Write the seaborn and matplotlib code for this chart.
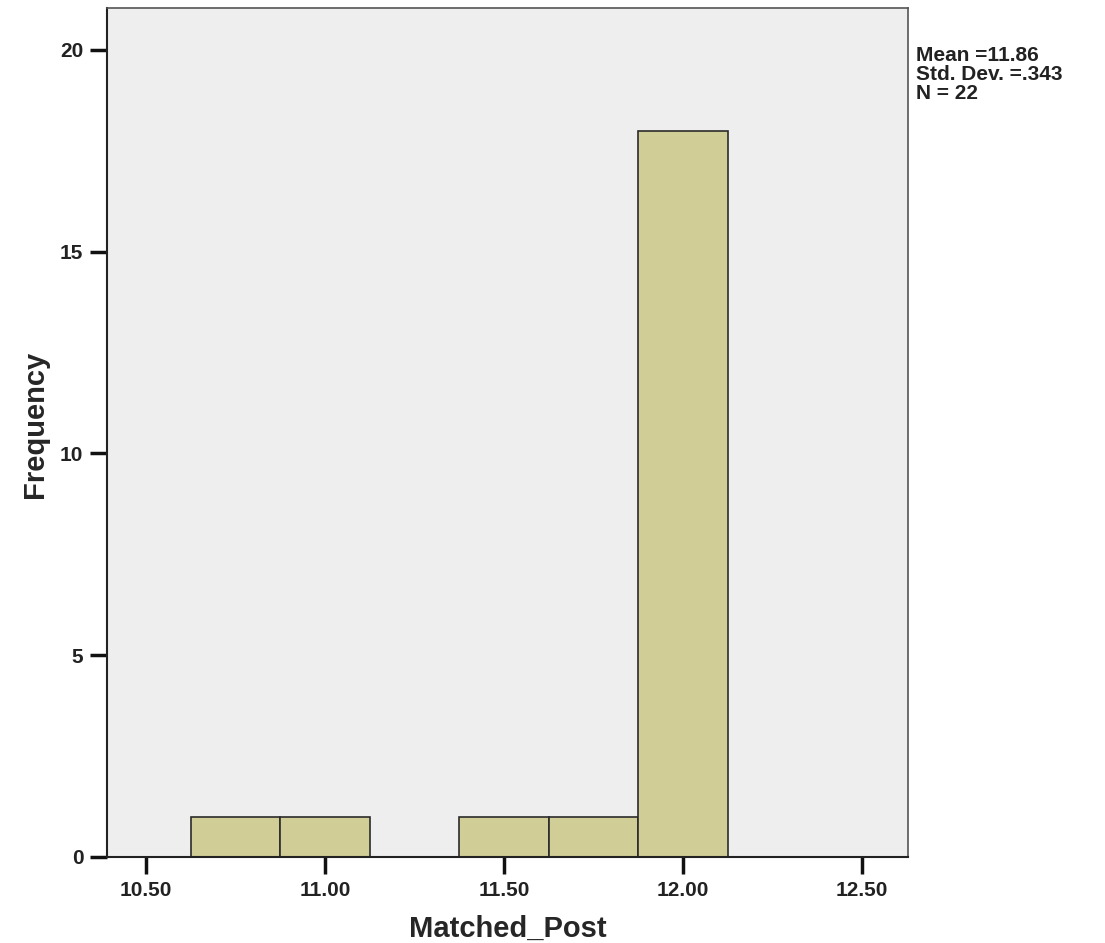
import numpy as np
import pandas as pd
import seaborn as sns
import matplotlib.pyplot as plt

# histogram of Matched_Post (bin centers + counts)
bin_centers = [10.75, 11.00, 11.25, 11.50, 11.75, 12.00]
counts = [1, 1, 0, 1, 1, 18]
bin_edges = [10.625, 10.875, 11.125, 11.375, 11.625, 11.875, 12.125]
x_ticks = [10.50, 11.00, 11.50, 12.00, 12.50]
x_tick_labels = ['10.50', '11.00', '11.50', '12.00', '12.50']
y_ticks = [0, 5, 10, 15, 20]
stats_text = "Mean =11.86\nStd. Dev. =.343\nN = 22"

df = pd.DataFrame({'Matched_Post': bin_centers, 'count': counts})

sns.set_style("white")
plt.rcParams['font.family'] = ['Liberation Sans', 'DejaVu Sans']

fig = plt.figure(figsize=(11.05, 9.43), dpi=100)
ax = fig.add_axes([107/1105, 1-857/943, (908-107)/1105, (857-8)/943])
ax.set_facecolor('#EEEEEE')

sns.histplot(data=df, x='Matched_Post', weights='count', bins=bin_edges,
             color='#D0CE96', alpha=1, edgecolor='#2b2b2b', linewidth=1.2, ax=ax)

ax.set_xlim(10.391, 12.628)
ax.set_ylim(0, 21.04)
ax.set_xticks(x_ticks)
ax.set_xticklabels(x_tick_labels)
ax.set_yticks(y_ticks)
ax.tick_params(axis='both', which='major', bottom=True, left=True, direction='out',
               length=12, width=2.5, color='#111111', labelsize=15, pad=5)
for lab in ax.get_xticklabels() + ax.get_yticklabels():
    lab.set_fontweight('bold')
    lab.set_color('#222222')

for side in ['left', 'bottom']:
    ax.spines[side].set_color('#222222')
    ax.spines[side].set_linewidth(1.5)
for side in ['top', 'right']:
    ax.spines[side].set_color('#555555')
    ax.spines[side].set_linewidth(1.2)

ax.set_xlabel('Matched_Post', fontsize=21, fontweight='bold', labelpad=11)
ax.set_ylabel('Frequency', fontsize=21, fontweight='bold')
ax.yaxis.set_label_coords(-0.073, 0.51)

fig.text(916/1105, 1-46/943, stats_text, fontsize=15, fontweight='bold',
         va='top', ha='left', linespacing=1.0, color='#222222')

plt.savefig('out.png', dpi=100)
